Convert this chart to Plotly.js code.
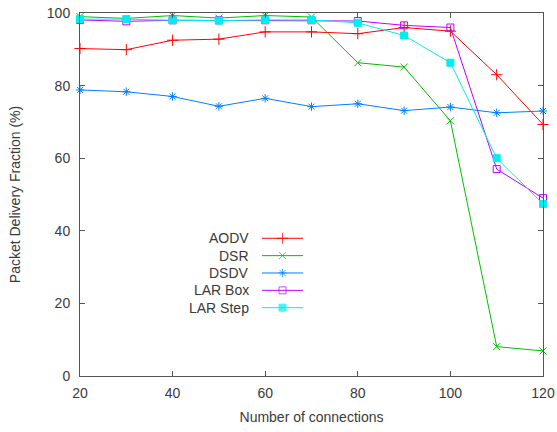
<!DOCTYPE html>
<html>
<head>
<meta charset="utf-8">
<script src="https://cdn.plot.ly/plotly-3.0.1.min.js"></script>
<style>
  html, body { margin: 0; padding: 0; background: #fff; }
  #chart { width: 557px; height: 432px; }
</style>
</head>
<body>
<div id="chart"></div>
<script>
// Packet delivery fraction versus number of connections
const connections = [20, 30, 40, 50, 60, 70, 80, 90, 100, 110, 120];

const aodv    = [90.2, 89.9, 92.5, 92.8, 94.8, 94.8, 94.3, 96.0, 95.0, 83.0, 69.3];
const dsr     = [99.0, 98.5, 99.3, 98.6, 99.3, 98.9, 86.3, 85.1, 70.3, 8.1, 6.9];
const dsdv    = [78.8, 78.3, 77.0, 74.3, 76.5, 74.2, 75.0, 73.1, 74.1, 72.5, 73.0];
const larBox  = [98.1, 97.7, 98.0, 98.0, 98.0, 98.0, 97.8, 96.6, 96.0, 57.0, 49.0];
const larStep = [98.3, 98.3, 98.0, 97.9, 98.1, 98.1, 97.3, 93.8, 86.3, 60.0, 47.4];

const seriesNames = ['AODV', 'DSR', 'DSDV', 'LAR Box', 'LAR Step'];
const seriesData  = [aodv, dsr, dsdv, larBox, larStep];
const colors  = ['#ff0000', '#00c000', '#0080ff', '#c000ff', '#00eeee'];
const symbols = ['cross-thin-open', 'x-thin-open', 'asterisk-open', 'square-open', 'square'];
const sizes   = [8, 7, 7, 7, 7];

const xTicks = [20, 40, 60, 80, 100, 120];
const yTicks = [0, 20, 40, 60, 80, 100];

const textColor = '#3a3a3a';
const frameColor = '#555555';
const fontFamily = '"Liberation Sans", Arial, sans-serif';

const traces = seriesData.map((vals, i) => ({
  x: connections,
  y: vals,
  name: seriesNames[i],
  type: 'scatter',
  mode: 'lines+markers',
  line: { color: colors[i], width: 1 },
  marker: {
    symbol: symbols[i],
    size: sizes[i],
    color: colors[i],
    line: { color: colors[i], width: 1 }
  },
  showlegend: false,
  cliponaxis: false
}));

// Key in the lower-left area: label on the left, line sample with a centred marker on the right
const keyTop = 0.3794, keyStep = 0.0478;
const keyTextX = 0.369, keyLineX0 = 0.393, keyLineX1 = 0.482;
const annotations = [];
seriesNames.forEach((name, i) => {
  const ky = keyTop - i * keyStep;
  annotations.push({
    xref: 'paper', yref: 'paper', x: keyTextX, y: ky,
    xanchor: 'right', yanchor: 'middle', showarrow: false,
    text: name, font: { family: fontFamily, size: 14, color: textColor }
  });
  traces.push({
    x: [keyLineX0, (keyLineX0 + keyLineX1) / 2, keyLineX1],
    y: [ky, ky, ky],
    xaxis: 'x2', yaxis: 'y2',
    type: 'scatter', mode: 'lines+markers',
    line: { color: colors[i], width: 1 },
    marker: {
      symbol: symbols[i], size: [0, sizes[i], 0], color: colors[i],
      line: { color: colors[i], width: 1 }
    },
    showlegend: false, hoverinfo: 'skip'
  });
});

const axisCommon = {
  showline: true, linecolor: frameColor, linewidth: 1, mirror: 'ticks',
  ticks: 'inside', ticklen: 5, tickcolor: frameColor, tickwidth: 1,
  showgrid: false, zeroline: false,
  tickfont: { family: fontFamily, size: 14, color: textColor }
};

const layout = {
  width: 557, height: 432,
  margin: { l: 80, r: 14, t: 13, b: 56 },
  paper_bgcolor: '#ffffff', plot_bgcolor: '#ffffff',
  font: { family: fontFamily, size: 14, color: textColor },
  showlegend: false,
  xaxis: Object.assign({}, axisCommon, {
    range: [20, 120], tickvals: xTicks, ticklabelstandoff: 4,
    title: { text: 'Number of connections', font: { family: fontFamily, size: 14, color: textColor }, standoff: 12 }
  }),
  yaxis: Object.assign({}, axisCommon, {
    range: [0, 100], tickvals: yTicks, ticklabelstandoff: 6,
    title: { text: 'Packet Delivery Fraction (%)', font: { family: fontFamily, size: 14, color: textColor }, standoff: 22 }
  }),
  xaxis2: { overlaying: 'x', range: [0, 1], visible: false, fixedrange: true },
  yaxis2: { overlaying: 'y', range: [0, 1], visible: false, fixedrange: true },
  annotations: annotations
};

Plotly.newPlot('chart', traces, layout, { staticPlot: true, displayModeBar: false });
</script>
</body>
</html>
